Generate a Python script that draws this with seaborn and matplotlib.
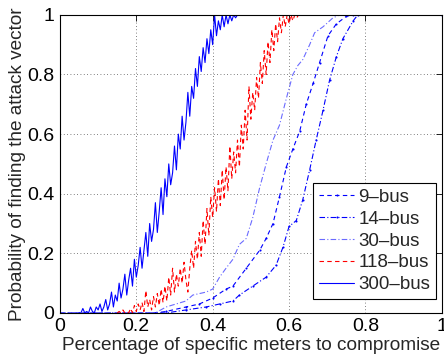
import numpy as np
import pandas as pd
import seaborn as sns
import matplotlib
matplotlib.use("Agg")
import matplotlib.pyplot as plt

# smooth curves
x_30 = [0.0, 0.25, 0.278, 0.33, 0.348, 0.383, 0.40, 0.418, 0.435, 0.453, 0.47, 0.488, 0.505, 0.523,
        0.54, 0.558, 0.575, 0.593, 0.61, 0.623, 0.636, 0.654, 0.667, 0.689, 0.715, 0.733, 1.0]
y_30 = [0.0, 0.0, 0.02, 0.04, 0.06, 0.07, 0.08, 0.12, 0.15, 0.18, 0.23, 0.25, 0.32, 0.42,
        0.50, 0.58, 0.63, 0.72, 0.80, 0.83, 0.85, 0.90, 0.94, 0.96, 0.99, 1.0, 1.0]

x_9 = [0.0, 0.25, 0.278, 0.33, 0.365, 0.40, 0.435, 0.453, 0.488, 0.523, 0.54, 0.558, 0.575, 0.593,
       0.61, 0.628, 0.645, 0.663, 0.68, 0.702, 0.724, 0.75, 0.768, 1.0]
y_9 = [0.0, 0.0, 0.005, 0.02, 0.03, 0.05, 0.08, 0.09, 0.15, 0.21, 0.25, 0.30, 0.39, 0.49,
       0.55, 0.61, 0.70, 0.77, 0.84, 0.93, 0.97, 0.995, 1.0, 1.0]

x_14 = [0.0, 0.25, 0.278, 0.33, 0.383, 0.418, 0.453, 0.47, 0.505, 0.54, 0.566, 0.584, 0.60, 0.619,
        0.636, 0.654, 0.671, 0.689, 0.706, 0.724, 0.741, 0.768, 0.78, 1.0]
y_14 = [0.0, 0.0, 0.0, 0.01, 0.02, 0.03, 0.04, 0.06, 0.09, 0.12, 0.16, 0.22, 0.29, 0.31,
        0.38, 0.48, 0.58, 0.68, 0.78, 0.86, 0.92, 0.98, 1.0, 1.0]

# noisy curves, sampled every 0.005
x_118 = list(np.round(np.arange(0.15, 0.6251, 0.005), 3)) + [1.0]
y_118 = [0.0, 0.005, 0.0, 0.01, 0.0, 0.005, 0.0, 0.015, 0.0, 0.025,
         0.005, 0.03, 0.01, 0.035, 0.005, 0.075, 0.02, 0.045, 0.01, 0.055,
         0.02, 0.065, 0.025, 0.08, 0.035, 0.09, 0.04, 0.12, 0.06, 0.15,
         0.07, 0.13, 0.09, 0.15, 0.10, 0.17, 0.11, 0.07, 0.15, 0.21,
         0.15, 0.24, 0.18, 0.27, 0.19, 0.31, 0.23, 0.35, 0.26, 0.39,
         0.32, 0.42, 0.34, 0.45, 0.36, 0.48, 0.38, 0.49, 0.41, 0.56,
         0.45, 0.54, 0.47, 0.58, 0.49, 0.63, 0.55, 0.68, 0.58, 0.76,
         0.65, 0.74, 0.68, 0.79, 0.72, 0.84, 0.77, 0.88, 0.80, 0.91,
         0.84, 0.95, 0.88, 0.97, 0.91, 0.99, 0.94, 1.0, 0.96, 1.0,
         0.97, 1.0, 0.98, 1.0, 0.99, 1.0, 1.0]

x_300 = list(np.round(np.arange(0.05, 0.4701, 0.005), 3)) + [1.0]
y_300 = [0.0, 0.0, 0.015, 0.0, 0.005, 0.0, 0.02, 0.005, 0.0, 0.02,
         0.01, 0.03, 0.005, 0.02, 0.045, 0.01, 0.03, 0.07, 0.02, 0.06,
         0.04, 0.10, 0.05, 0.08, 0.13, 0.06, 0.11, 0.15, 0.09, 0.18,
         0.12, 0.16, 0.22, 0.15, 0.21, 0.27, 0.19, 0.30, 0.24, 0.28,
         0.37, 0.27, 0.34, 0.42, 0.33, 0.45, 0.39, 0.50, 0.43, 0.47,
         0.56, 0.48, 0.60, 0.55, 0.66, 0.58, 0.64, 0.74, 0.66, 0.76,
         0.72, 0.82, 0.76, 0.86, 0.81, 0.89, 0.84, 0.92, 0.87, 0.95,
         0.90, 1.0, 0.93, 0.98, 0.95, 1.0, 0.96, 1.0, 0.97, 1.0,
         0.98, 1.0, 0.99, 1.0, 1.0, 1.0]

sns.set_style("white")
plt.rcParams['font.family'] = ['Liberation Sans', 'DejaVu Sans']

fig = plt.figure(figsize=(4.44, 3.54), dpi=100)
ax = fig.add_axes([0.135, 0.116, 0.86, 0.842])

sns.lineplot(x=x_9, y=y_9, ax=ax, color='#0000ff', lw=0.8, sort=False, estimator=None,
             label='9\u2013bus', marker='.', markersize=3, markeredgewidth=0)
ax.lines[-1].set_dashes([4, 3])
sns.lineplot(x=x_14, y=y_14, ax=ax, color='#0000ff', lw=0.8, sort=False, estimator=None,
             label='14\u2013bus', marker='.', markersize=3, markeredgewidth=0)
ax.lines[-1].set_dashes([5, 2, 1, 2])
sns.lineplot(x=x_30, y=y_30, ax=ax, color='#6b6bff', lw=0.8, sort=False, estimator=None,
             label='30\u2013bus')
ax.lines[-1].set_dashes([5, 2, 1, 2])
sns.lineplot(x=x_118, y=y_118, ax=ax, color='#ff0000', lw=0.8, sort=False, estimator=None,
             label='118\u2013bus')
ax.lines[-1].set_dashes([4, 3])
sns.lineplot(x=x_300, y=y_300, ax=ax, color='#0000ff', lw=0.8, sort=False, estimator=None,
             label='300\u2013bus')

ax.set_xlim(0, 1)
ax.set_ylim(0, 1)
ax.set_xticks([0, 0.2, 0.4, 0.6, 0.8, 1])
ax.set_yticks([0, 0.2, 0.4, 0.6, 0.8, 1])
ax.set_xticklabels(['0', '0.2', '0.4', '0.6', '0.8', '1'])
ax.set_yticklabels(['0', '0.2', '0.4', '0.6', '0.8', '1'])
ax.grid(True, color='#555555', linestyle=(0, (1, 3)), linewidth=0.6)
ax.tick_params(direction='in', length=4, width=0.6, labelsize=14, top=True, right=True,
               pad=4, colors='black')
for s in ax.spines.values():
    s.set_color('black')
    s.set_linewidth(0.8)

ax.set_xlabel('Percentage of specific meters to compromise', fontsize=13.7, labelpad=1)
ax.set_ylabel('Probability of finding the attack vector', fontsize=13.7, labelpad=1)

leg = ax.legend(loc='lower right', bbox_to_anchor=(0.984, 0.047), fontsize=13.5,
                numpoints=1, handlelength=1.9, handletextpad=0.2, borderpad=0.3,
                labelspacing=0.25, borderaxespad=0, fancybox=False, framealpha=1)
leg.get_frame().set_edgecolor('black')
leg.get_frame().set_linewidth(0.8)

fig.savefig('out.png', dpi=100)
